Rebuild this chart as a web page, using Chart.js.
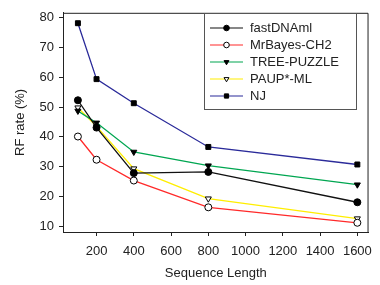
<!DOCTYPE html>
<html>
<head>
<meta charset="utf-8">
<script src="https://cdn.jsdelivr.net/npm/chart.js@4"></script>
<style>
  html, body { margin: 0; padding: 0; background: #fff; }
  #wrap { width: 380px; height: 285px; }
</style>
</head>
<body>
<div id="wrap"><canvas id="rfChart" width="380" height="285"></canvas></div>
<script>
const seqLengths = [100, 200, 400, 800, 1600];
const fastDNAml = [52.3, 43.1, 27.8, 28.2, 18.0];
const mrBayes = [40.1, 32.3, 25.3, 16.3, 11.1];
const treePuzzle = [48.7, 44.7, 34.9, 30.3, 23.9];
const paupML = [49.8, 43.5, 29.3, 19.2, 12.5];
const nj = [78.2, 59.4, 51.3, 36.6, 30.7];
const xTicks = [200, 400, 600, 800, 1000, 1200, 1400, 1600];
const yTicks = [10, 20, 30, 40, 50, 60, 70, 80];

const FONT = "'Liberation Sans', Arial, sans-serif";

function series(label, values, color, style, fill, rotation) {
  return {
    label: label,
    data: seqLengths.map((x, i) => ({ x: x, y: values[i] })),
    borderColor: color,
    borderWidth: 1.3,
    pointStyle: style,
    pointRotation: rotation || 0,
    pointRadius: 3.5,
    pointBorderColor: "#000",
    pointBorderWidth: 1,
    pointBackgroundColor: fill,
    tension: 0
  };
}

// frame (top/right) plus an in-plot legend box
const framePlugin = {
  id: "frame",
  afterDraw(chart) {
    const { ctx, chartArea: a } = chart;
    ctx.save();
    ctx.strokeStyle = "#222";
    ctx.lineWidth = 1;
    ctx.beginPath();
    ctx.moveTo(a.left, a.top + 0.5);
    ctx.lineTo(a.right - 0.5, a.top + 0.5);
    ctx.lineTo(a.right - 0.5, a.bottom);
    ctx.stroke();

    // legend
    const bx = 204.5, by = 13.5, bw = 152, bh = 96;
    ctx.strokeStyle = "#555";
    ctx.strokeRect(bx, by, bw, bh);
    ctx.font = "13px " + FONT;
    ctx.textBaseline = "middle";
    chart.data.datasets.forEach((ds, i) => {
      const y = 28 + i * 17;
      ctx.strokeStyle = ds.borderColor;
      ctx.lineWidth = 1.2;
      ctx.beginPath();
      ctx.moveTo(210, y);
      ctx.lineTo(243, y);
      ctx.stroke();
      ctx.fillStyle = ds.pointBackgroundColor;
      ctx.strokeStyle = "#000";
      ctx.lineWidth = 1;
      Chart.helpers.drawPoint(ctx, {
        pointStyle: ds.pointStyle,
        rotation: ds.pointRotation,
        radius: ds.pointStyle === "rect" ? 3 : 2.8,
        borderWidth: 1
      }, 226.5, y);
      ctx.fillStyle = "#222";
      ctx.fillText(ds.label, 250, y + 0.5);
    });
    ctx.restore();
  }
};

new Chart(document.getElementById("rfChart"), {
  type: "line",
  data: {
    datasets: [
      series("fastDNAml", fastDNAml, "#111111", "circle", "#000"),
      series("MrBayes-CH2", mrBayes, "#ff2a2a", "circle", "#fff"),
      series("TREE-PUZZLE", treePuzzle, "#00a651", "triangle", "#000", 180),
      series("PAUP*-ML", paupML, "#ffee00", "triangle", "#fff", 180),
      series("NJ", nj, "#2b2b9a", "rect", "#000")
    ]
  },
  options: {
    responsive: false,
    animation: false,
    layout: { padding: { top: 11, right: 5, left: 0, bottom: 0 } },
    plugins: {
      legend: { display: false },
      tooltip: { enabled: false }
    },
    scales: {
      x: {
        type: "linear",
        min: 20,
        max: 1660,
        afterBuildTicks: s => { s.ticks = xTicks.map(v => ({ value: v })); },
        afterFit: s => { s.height = 53; },
        grid: { drawOnChartArea: false, tickLength: 4, color: "#222" },
        border: { display: true, color: "#222", width: 1 },
        ticks: { color: "#222", padding: 8, maxRotation: 0, callback: v => String(v), font: { family: FONT, size: 13 } },
        title: { display: true, text: "Sequence Length", color: "#222", padding: { top: 5 }, font: { family: FONT, size: 13 } }
      },
      y: {
        min: 8,
        max: 81.7,
        afterBuildTicks: s => { s.ticks = yTicks.map(v => ({ value: v })); },
        afterFit: s => { s.width = 63; },
        grid: { drawOnChartArea: false, tickLength: 4, color: "#222" },
        border: { display: true, color: "#222", width: 1 },
        ticks: { color: "#222", padding: 5, callback: v => String(v), font: { family: FONT, size: 13 } },
        title: { display: true, text: "RF rate (%)", color: "#222", padding: { top: 13, bottom: 0 }, font: { family: FONT, size: 13 } }
      }
    }
  },
  plugins: [framePlugin]
});
</script>
</body>
</html>
